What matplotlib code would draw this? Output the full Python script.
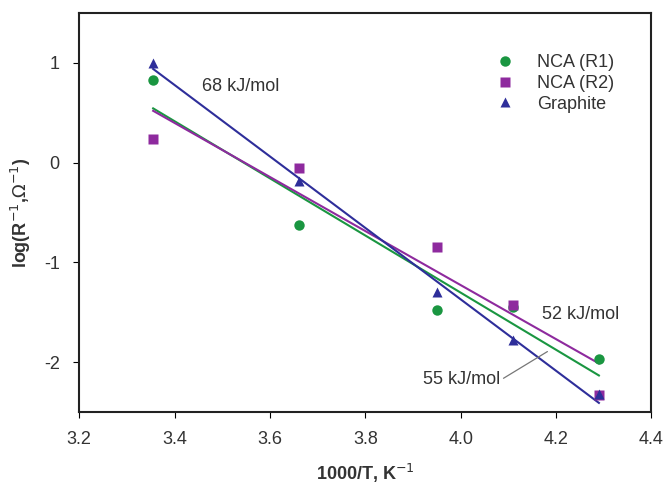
import numpy as np
import matplotlib.pyplot as plt

plt.rcParams['font.family'] = ['Liberation Sans', 'DejaVu Sans']
plt.rcParams['axes.unicode_minus'] = False

# 1000/T values
x = [3.355, 3.66, 3.95, 4.11, 4.29]
nca_r1 = [0.83, -0.63, -1.48, -1.45, -1.97]
nca_r2 = [0.24, -0.05, -0.85, -1.43, -2.33]
graphite = [1.0, -0.18, -1.30, -1.78, -2.32]

green = '#1a9641'
purple = '#8e2a9e'
blue = '#2e2e9a'

fig = plt.figure(figsize=(6.66, 4.84), dpi=100)
ax = fig.add_axes([0.119, 0.149, 0.859, 0.824])

xx = np.array([x[0], x[-1]])
# fitted lines (drawn first so markers sit on top)
for y, c in [(nca_r1, green), (nca_r2, purple), (graphite, blue)]:
    k, n = np.polyfit(x, y, 1)
    ax.plot(xx, k * xx + n, color=c, lw=1.5, zorder=2)

ax.plot(x, nca_r1, 'o', color=green, ms=7.5, mec='none', label='NCA (R1)', zorder=3)
ax.plot(x, nca_r2, 's', color=purple, ms=7, mec='none', label='NCA (R2)', zorder=3)
ax.plot(x, graphite, '^', color=blue, ms=7.5, mec='none', label='Graphite', zorder=4)

txtc = '#333333'
fs = 13
ax.text(3.458, 0.76, '68 kJ/mol', fontsize=fs, color=txtc, va='center')
ax.text(4.171, -1.52, '52 kJ/mol', fontsize=fs, color=txtc, va='center')
ax.annotate('55 kJ/mol', xy=(4.182, -1.895), xytext=(3.922, -2.18), fontsize=fs,
            color=txtc, va='center',
            arrowprops=dict(arrowstyle='-', color='#777777', lw=0.9,
                            shrinkA=0, shrinkB=0, relpos=(1.0, 0.5)))

ax.set_xlim(3.2, 4.4)
ax.set_ylim(-2.5, 1.5)
ax.set_xticks([3.2, 3.4, 3.6, 3.8, 4.0, 4.2, 4.4])
ax.set_xticklabels(['3.2', '3.4', '3.6', '3.8', '4.0', '4.2', '4.4'])
ax.set_yticks([-2, -1, 0, 1])
ax.tick_params(direction='out', length=4, labelsize=fs, labelcolor=txtc,
               top=False, right=False)
ax.tick_params(axis='x', pad=10)
ax.tick_params(axis='y', pad=10)
for s in ax.spines.values():
    s.set_linewidth(1.5)
    s.set_color('#222222')

ax.set_xlabel('1000/T, K$^{-1}$', fontsize=fs, fontweight='bold', color=txtc, labelpad=10)
ax.set_ylabel('log(R$^{-1}$,$\\Omega^{-1}$)', fontsize=fs, fontweight='bold', color=txtc, labelpad=8)

ax.legend(loc='upper left', bbox_to_anchor=(0.684, 0.937), frameon=False, fontsize=fs,
          handletextpad=0.8, labelspacing=0.2, labelcolor=txtc)

fig.savefig('out.png', dpi=100)
